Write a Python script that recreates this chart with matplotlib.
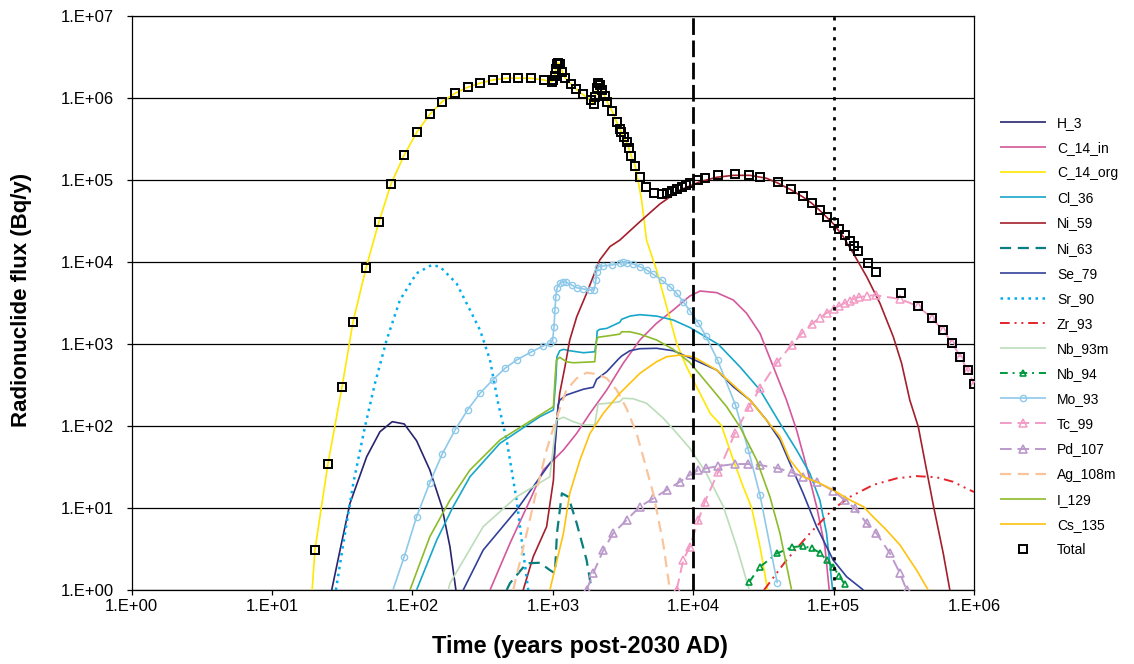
import matplotlib
matplotlib.use("Agg")
import matplotlib.pyplot as plt

plt.rcParams['font.family'] = ['Liberation Sans', 'DejaVu Sans']

# ---------------- data: time (years) and flux (Bq/y) ----------------
h3_t = [26.6, 30.5, 35.9, 47.2, 58.7, 71.8, 87.4, 107, 133, 162, 185, 204]
h3_y = [1.0, 3.07, 11.4, 42.2, 85.2, 113, 106, 66.2, 29.1, 10.4, 3.37, 1.0]

c14in_t = [357, 495, 688, 855, 1010, 1190, 1480, 1840, 2420, 3170, 4170, 5480, 7210,
           9460, 1.12e4, 1.47e4, 1.93e4, 2.40e4, 2.99e4, 3.72e4, 4.62e4, 5.45e4,
           6.42e4, 7.57e4, 8.67e4, 9.31e4]
c14in_y = [1.0, 3.71, 12.5, 29.1, 38.5, 51, 81.5, 143, 275, 582, 1120, 1790, 2600,
           3850, 4430, 4230, 3440, 2370, 1350, 528, 207, 89.3, 31.9, 10.4, 3.37, 1.0]

c14org_t = [19.3, 20.2, 25.0, 31.5, 37.7, 46.7, 57.7, 70.3, 87.4, 108, 133, 163, 201,
            247, 304, 374, 461, 567, 698, 859, 980, 1000, 1030, 1050, 1070, 1090,
            1120, 1170, 1230, 1340, 1460, 1630, 1860, 1970, 2010, 2060, 2100, 2160,
            2230, 2340, 2440, 2640, 2850, 3000, 3080, 3210, 3350, 3470, 3620, 3860,
            4060, 4290, 4650, 5480, 6470, 7620, 8970, 1.0e4, 1.32e4, 1.59e4, 1.93e4,
            2.27e4, 2.61e4, 2.99e4, 3.39e4]
c14org_y = [1.0, 3.07, 34.4, 299, 1850, 8450, 3.08e4, 8.93e4, 2.02e5, 3.88e5, 6.32e5,
            9.02e5, 1.14e6, 1.35e6, 1.52e6, 1.66e6, 1.74e6, 1.75e6, 1.74e6, 1.66e6,
            1.58e6, 1.64e6, 1.85e6, 2.26e6, 2.60e6, 2.69e6, 2.60e6, 2.09e6, 1.75e6,
            1.49e6, 1.29e6, 1.11e6, 9.46e5, 8.45e5, 1.03e6, 1.32e6, 1.51e6, 1.44e6,
            1.25e6, 1.06e6, 9.02e5, 6.93e5, 5.09e5, 4.15e5, 3.85e5, 3.32e5, 2.88e5,
            2.48e5, 1.96e5, 1.49e5, 9.5e4, 5.7e4, 1.85e4, 7990, 2850, 1020, 528, 364,
            143, 101, 38.5, 18.2, 10, 3.37, 1.0]

cl36_t = [107, 149, 195, 257, 420, 809, 1010, 1050, 1070, 1120, 1190, 1320, 1650, 1990,
          2050, 2070, 2160, 2420, 3000, 3090, 3540, 4170, 5480, 7210, 9460, 1.51e4,
          2.15e4, 2.99e4, 4.15e4, 5.45e4, 6.77e4, 7.98e4, 8.91e4, 9.84e4]
cl36_y = [1.0, 4.07, 10.4, 24.1, 61.5, 130, 157, 364, 700, 828, 861, 828, 783, 805,
          1120, 1440, 1510, 1550, 1840, 2000, 2190, 2280, 2190, 1960, 1590, 991, 528,
          275, 108, 51, 26.5, 12.5, 4.91, 1.0]

ni59_t = [615, 725, 903, 1010, 1035, 1060, 1120, 1220, 1320, 1480, 1740, 2160, 2550,
          3000, 4170, 5790, 8040, 1.12e4, 1.47e4, 1.93e4, 2.54e4, 3.33e4, 3.99e4,
          4.96e4, 6.01e4, 7.0e4, 7.98e4, 8.96e4, 1.0e5, 1.17e5, 1.38e5, 1.72e5,
          2.14e5, 2.66e5, 3.05e5, 3.49e5, 4.01e5, 4.55e5, 5.18e5, 6.04e5, 6.73e5]
ni59_y = [1.0, 2.55, 5.92, 21.9, 58.7, 108, 251, 528, 1120, 2150, 4150, 1.06e4,
          1.54e4, 1.85e4, 3.1e4, 5.1e4, 7.55e4, 9.53e4, 1.08e5, 1.14e5, 1.14e5,
          1.05e5, 9.2e4, 7.6e4, 6.25e4, 5.2e4, 4.25e4, 3.5e4, 2.9e4, 2.04e4, 1.28e4,
          6620, 3130, 1230, 582, 207, 98, 31.6, 10, 2.8, 1.0]

ni63_t = [469, 495, 651, 809, 953, 1035, 1070, 1160, 1290, 1480, 1740, 1890]
ni63_y = [1.0, 1.21, 2.12, 2.15, 1.75, 1.6, 4.91, 15.1, 13.7, 6.5, 2.32, 1.0]

se79_t = [230, 319, 552, 953, 1020, 1060, 1090, 1120, 1250, 1650, 1940, 2050, 2420,
          2920, 3090, 3540, 4170, 5480, 7210, 9460, 1.47e4, 1.93e4, 2.54e4, 3.33e4,
          4.15e4, 4.89e4, 6.07e4, 7.57e4, 9.93e4, 1.24e5, 1.63e5]
se79_y = [1.0, 3.07, 9.45, 35.1, 40.4, 89.3, 180, 207, 239, 281, 297, 371, 459, 650,
          714, 828, 877, 887, 828, 679, 482, 301, 207, 118, 67.5, 35.1, 15.1, 5.92,
          2.32, 1.45, 1.0]

sr90_t = [28.5, 32.2, 37.9, 45.9, 54.1, 65.5, 81.5, 107, 137, 157, 206, 257, 303, 357,
          408, 469, 552, 600, 668]
sr90_y = [1.0, 3.71, 20.0, 98, 332, 1120, 3440, 7280, 9190, 8770, 5500, 2600, 1480,
          638, 189, 67.5, 12.5, 4.07, 1.0]

zr93_t = [3.19e4, 3.33e4, 4.62e4, 6.77e4, 9.93e4, 1.31e5, 1.91e5, 2.81e5, 3.90e5,
          5.42e5, 7.11e5, 9.1e5, 1.0e6]
zr93_y = [1.0, 1.1, 2.32, 4.91, 9.72, 13.7, 19.1, 23, 24.5, 23.7, 20.9, 16.9, 15.7]

nb93m_t = [180, 185, 319, 552, 953, 1060, 1190, 1400, 1650, 1990, 2100, 2420, 3000,
           3170, 3740, 4660, 6110, 7620, 9460, 1.24e4, 1.64e4, 2.04e4, 2.51e4]
nb93m_y = [1.0, 1.21, 5.92, 13.7, 24.1, 118, 128, 113, 103, 103, 185, 189, 198, 218,
           215, 189, 125, 82.2, 53.5, 26.5, 10.4, 3.37, 1.0]

nb94_t = [2.51e4, 2.99e4, 3.96e4, 5.02e4, 6.01e4, 7.0e4, 7.98e4, 8.91e4, 9.93e4,
          1.10e5, 1.20e5]
nb94_y = [1.26, 1.92, 2.8, 3.32, 3.44, 3.23, 2.85, 2.32, 1.91, 1.49, 1.17]

mo93_t = [72.6, 87.4, 107, 133, 163, 201, 247, 303, 373, 456, 552, 695, 855, 953, 997,
          1020, 1035, 1050, 1070, 1120, 1190, 1250, 1360, 1480, 1650, 1840, 1970,
          2030, 2050, 2100, 2280, 2620, 3000, 3170, 3350, 3740, 4170, 4660, 5190,
          5950, 6830, 7620, 8490, 9460, 1.09e4, 1.23e4, 1.49e4, 2.0e4, 2.47e4,
          2.99e4, 3.97e4]
mo93_y = [1.0, 2.55, 7.83, 20.4, 45.6, 89.3, 157, 251, 364, 505, 638, 793, 946, 1020,
          1120, 1630, 2600, 3780, 4780, 5500, 5750, 5650, 5250, 4860, 4690, 4560,
          4560, 6030, 7620, 8770, 8940, 9190, 9640, 1.01e4, 9800, 9460, 8770, 7980,
          7080, 6030, 5000, 4150, 3280, 2550, 1790, 1250, 638, 180, 51, 14.4, 1.21]

tc99_t = [7620, 8490, 9460, 1.09e4, 1.21e4, 1.51e4, 1.98e4, 2.51e4, 2.99e4, 3.96e4,
          5.02e4, 5.97e4, 6.97e4, 7.98e4, 8.96e4, 1.0e5, 1.10e5, 1.20e5, 1.30e5,
          1.40e5, 1.51e5, 1.72e5, 2.0e5, 2.97e5, 3.98e5, 5.01e5, 6.0e5, 7.0e5,
          7.98e5, 9.0e5, 1.0e6]
tc99_y = [1.0, 2.32, 3.37, 7.14, 11.9, 27.7, 81.5, 172, 288, 598, 972, 1360, 1750,
          2090, 2410, 2670, 2930, 3160, 3370, 3570, 3710, 3880, 3930, 3540, 2900,
          2070, 1470, 1030, 700, 482, 325]

pd107_t = [1740, 1940, 2290, 2690, 3350, 4170, 5190, 6470, 8040, 9460, 1.09e4, 1.24e4,
           1.51e4, 1.98e4, 2.47e4, 2.99e4, 4.03e4, 5.02e4, 6.07e4, 7.57e4, 9.93e4,
           1.20e5, 1.42e5, 1.72e5, 2.02e5, 2.52e5, 2.97e5, 3.31e5]
pd107_y = [1.0, 1.6, 3.07, 4.91, 7.14, 10.4, 13.1, 16.6, 20.9, 25.3, 29.1, 30.5, 32.5,
           34.4, 34.4, 33.4, 30.5, 27.2, 24.1, 20.9, 16.3, 12.5, 9.91, 6.5, 4.91, 2.8,
           1.6, 1.0]

ag108m_t = [522, 651, 767, 903, 1050, 1250, 1480, 1740, 2050, 2420, 2850, 3350, 3950,
            4400, 5190, 6110, 6820]
ag108m_y = [1.0, 4.91, 16.6, 51, 118, 275, 382, 447, 431, 382, 275, 164, 81.5, 42.2,
            15.1, 3.71, 1.0]

i129_t = [96, 133, 185, 257, 420, 809, 1010, 1035, 1060, 1120, 1250, 1400, 1990, 2050,
          2100, 2420, 3000, 3090, 3540, 4170, 5480, 7210, 9460, 1.32e4, 1.73e4,
          2.15e4, 2.83e4, 3.52e4, 4.15e4, 5.02e4]
i129_y = [1.0, 4.47, 12.5, 29.1, 67.5, 136, 172, 364, 638, 689, 608, 591, 608, 1120,
          1210, 1250, 1320, 1410, 1410, 1320, 1120, 861, 595, 301, 172, 98, 38.5,
          13.7, 4.91, 1.0]

cs135_t = [953, 1190, 1320, 1560, 1840, 2290, 3000, 4170, 5480, 6470, 8050, 1.0e4,
           1.47e4, 2.54e4, 4.15e4, 4.89e4, 6.07e4, 7.98e4, 9.93e4, 1.31e5, 1.63e5,
           1.91e5, 2.38e5, 2.97e5, 3.90e5, 4.72e5]
cs135_y = [1.0, 4.91, 15.1, 38.5, 81.5, 143, 251, 439, 608, 700, 734, 700, 482, 207,
           74.1, 38.5, 24.1, 20, 16.6, 12.5, 10.4, 7.83, 5.39, 3.54, 1.75, 1.0]

total_t = [20.2, 25.0, 31.5, 37.7, 46.7, 57.7, 70.3, 87.4, 108, 133, 163, 201, 247,
           304, 374, 461, 567, 698, 859, 980, 1000, 1030, 1050, 1070, 1090, 1120,
           1170, 1230, 1340, 1460, 1630, 1860, 1970, 2010, 2060, 2100, 2160, 2230,
           2340, 2440, 2640, 2850, 3000, 3080, 3210, 3350, 3470, 3620, 3860, 4170,
           4600, 5250, 5980, 6460, 7020, 7620, 8270, 8830, 9470, 1.09e4, 1.22e4,
           1.50e4, 1.99e4, 2.48e4, 2.99e4, 3.99e4, 4.96e4, 6.01e4, 7.0e4, 7.98e4,
           8.96e4, 1.0e5, 1.1e5, 1.2e5, 1.3e5, 1.4e5, 1.5e5, 1.75e5, 2.0e5, 3.0e5,
           4.0e5, 5.0e5, 6.0e5, 7.0e5, 8.0e5, 9.0e5, 1.0e6]
total_y = [3.07, 34.4, 299, 1850, 8450, 3.08e4, 8.93e4, 2.02e5, 3.88e5, 6.32e5,
           9.02e5, 1.14e6, 1.35e6, 1.52e6, 1.66e6, 1.74e6, 1.75e6, 1.74e6, 1.66e6,
           1.58e6, 1.64e6, 1.85e6, 2.26e6, 2.60e6, 2.69e6, 2.60e6, 2.09e6, 1.75e6,
           1.49e6, 1.29e6, 1.11e6, 9.46e5, 8.45e5, 1.03e6, 1.32e6, 1.51e6, 1.44e6,
           1.25e6, 1.06e6, 9.02e5, 6.93e5, 5.09e5, 4.15e5, 3.85e5, 3.32e5, 2.88e5,
           2.48e5, 1.96e5, 1.49e5, 1.09e5, 8.15e4, 6.89e4, 6.70e4, 7.0e4, 7.41e4,
           7.84e4, 8.29e4, 8.77e4, 9.19e4, 9.91e4, 1.05e5, 1.14e5, 1.19e5, 1.16e5,
           1.10e5, 9.37e4, 7.71e4, 6.32e4, 5.25e4, 4.31e4, 3.57e4, 2.99e4, 2.51e4,
           2.12e4, 1.82e4, 1.57e4, 1.36e4, 9800, 7550, 4150, 2880, 2070, 1470, 1030,
           700, 482, 325]

x_ticks = [1, 10, 100, 1e3, 1e4, 1e5, 1e6]
x_tick_labels = ["1.E+00", "1.E+01", "1.E+02", "1.E+03", "1.E+04", "1.E+05", "1.E+06"]
y_ticks = [1, 10, 100, 1e3, 1e4, 1e5, 1e6, 1e7]
y_tick_labels = ["1.E+00", "1.E+01", "1.E+02", "1.E+03", "1.E+04", "1.E+05",
                 "1.E+06", "1.E+07"]
period_marks = [1e4, 1e5]

# ---------------- line styles per nuclide ----------------
series = [
    ("H_3", h3_t, h3_y, dict(color="#28246E", lw=1.2)),
    ("C_14_in", c14in_t, c14in_y, dict(color="#D4589B", lw=1.2)),
    ("C_14_org", c14org_t, c14org_y, dict(color="#FFE800", lw=1.2)),
    ("Cl_36", cl36_t, cl36_y, dict(color="#16A7C9", lw=1.2)),
    ("Ni_59", ni59_t, ni59_y, dict(color="#A31F2B", lw=1.2)),
    ("Ni_63", ni63_t, ni63_y, dict(color="#0A7E7E", lw=1.6, dashes=(5, 3))),
    ("Se_79", se79_t, se79_y, dict(color="#33409A", lw=1.2)),
    ("Sr_90", sr90_t, sr90_y, dict(color="#00AEEF", lw=1.8, dashes=(1, 1.8))),
    ("Zr_93", zr93_t, zr93_y, dict(color="#E5252A", lw=1.4,
                                   dashes=(5, 2.5, 1, 2.5, 1, 2.5))),
    ("Nb_93m", nb93m_t, nb93m_y, dict(color="#BCDDBA", lw=1.2)),
    ("Nb_94", nb94_t, nb94_y, dict(color="#009A3E", lw=1.4, dashes=(4, 2.5, 1, 2.5),
                                   marker="^", ms=5, mfc="none", mew=1.2)),
    ("Mo_93", mo93_t, mo93_y, dict(color="#8FC9EA", lw=1.2, marker="o", ms=4.5,
                                   mfc="none", mew=1.0, markevery=slice(1, None))),
    ("Tc_99", tc99_t, tc99_y, dict(color="#F29BC4", lw=1.4, dashes=(6, 3),
                                   marker="^", ms=5.5, mfc="none", mew=1.1)),
    ("Pd_107", pd107_t, pd107_y, dict(color="#BB9ACB", lw=1.4, dashes=(6, 3),
                                      marker="^", ms=5.5, mfc="none", mew=1.2)),
    ("Ag_108m", ag108m_t, ag108m_y, dict(color="#F9C49B", lw=1.6, dashes=(5, 3))),
    ("I_129", i129_t, i129_y, dict(color="#8DBB2B", lw=1.2)),
    ("Cs_135", cs135_t, cs135_y, dict(color="#FFC20E", lw=1.2)),
]

fig = plt.figure(figsize=(11.34, 6.64), dpi=100)
ax = fig.add_axes([0.1161, 0.1114, 0.7428, 0.8645])
ax.set_xscale("log")
ax.set_yscale("log")
ax.set_xlim(1, 1e6)
ax.set_ylim(1, 1e7)

handles = []
for label, t, y, style in series:
    ln, = ax.plot(t, y, label=label, zorder=3, solid_capstyle="butt",
                  dash_capstyle="butt", **style)
    handles.append(ln)

tot, = ax.plot(total_t, total_y, ls="none", marker="s", ms=5.2, mfc="none",
               mec="black", mew=1.4, label="Total", zorder=6)
handles.append(tot)

ax.axvline(period_marks[0], color="black", lw=2.0, dashes=(6, 2), zorder=5)
ax.axvline(period_marks[1], color="black", lw=2.0, dashes=(1.2, 2.4), zorder=5)

ax.set_xticks(x_ticks)
ax.set_xticklabels(x_tick_labels)
ax.set_yticks(y_ticks)
ax.set_yticklabels(y_tick_labels)
ax.minorticks_off()
ax.tick_params(direction="out", length=3.8, width=0.9, labelsize=12,
               colors="black")
ax.tick_params(axis="x", pad=3)
ax.tick_params(axis="y", pad=9)
ax.yaxis.grid(True, color="black", lw=0.9)
ax.set_axisbelow(True)
for sp in ax.spines.values():
    sp.set_linewidth(0.9)
    sp.set_color("black")

fig.text(22 / 1134, 1 - 300 / 664, "Radionuclide flux (Bq/y)", rotation=90,
         ha="center", va="center", fontsize=16, fontweight="bold")
fig.text(580 / 1134, 1 - 647 / 664, "Time (years post-2030 AD)",
         ha="center", va="center", fontsize=17, fontweight="bold")

fig.legend(handles=handles, loc="upper left", bbox_to_anchor=(1000 / 1134, 1 - 116 / 664),
           frameon=False, fontsize=10, handlelength=3.3, handletextpad=0.8,
           labelspacing=0.8, borderpad=0, borderaxespad=0, numpoints=1)

fig.savefig("out.png", dpi=100)
